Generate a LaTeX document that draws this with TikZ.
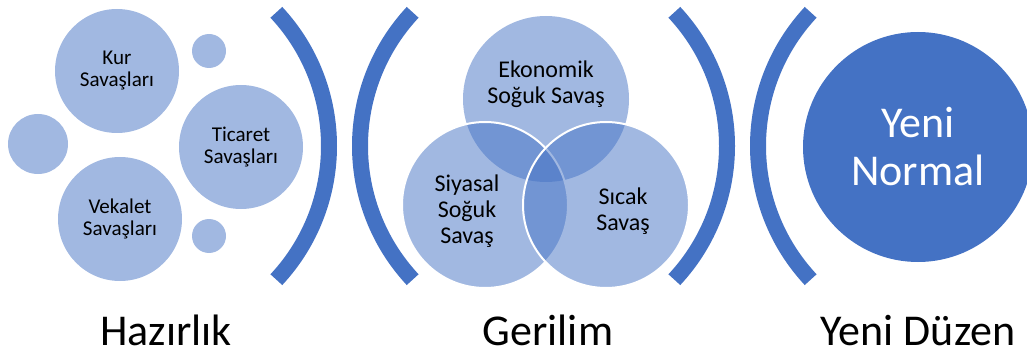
\documentclass[tikz,border=0pt]{standalone}
\usepackage{fontspec}
\setmainfont{Carlito}
\definecolor{accent}{HTML}{4472C4}
\begin{document}
\begin{tikzpicture}[x=0.75pt,y=-0.75pt,
  bub/.style={circle,inner sep=0pt,fill=accent,fill opacity=0.5,text opacity=1,align=center,font=\fontsize{15.8}{16.5}\selectfont},
  venn/.style={circle,inner sep=0pt,minimum size=124.5pt,fill=accent,fill opacity=0.5,draw=white,draw opacity=1,line width=1.5pt,text opacity=1,align=center,font=\fontsize{18}{19.5}\selectfont},
  bracket/.style={draw=accent,line width=12pt},
  stage/.style={anchor=base,font=\fontsize{33}{36}\selectfont}]
\useasboundingbox (0,0) rectangle (1027,356);
% left group
\node[bub,minimum size=93pt] (kur) at (117,71) {Kur\\Savaşları};
\node[bub,minimum size=25.5pt] (s1) at (209,51) {};
\node[bub,minimum size=45pt] (s2) at (38,144) {};
\node[bub,minimum size=93pt] (tic) at (241,147) {Ticaret\\Savaşları};
\node[bub,minimum size=93pt] (vek) at (120,219) {Vekalet\\Savaşları};
\node[bub,minimum size=25.5pt] (s3) at (209,236) {};
% brackets
\coordinate (c1) at (133,146);
\coordinate (c2) at (556,146);
\coordinate (c3) at (531,146);
\coordinate (c4) at (954,146);
\draw[bracket] ([shift={(-43:147pt)}]c1) arc[start angle=-43,end angle=43,radius=147pt];
\draw[bracket] ([shift={(137:147pt)}]c2) arc[start angle=137,end angle=223,radius=147pt];
\draw[bracket] ([shift={(-43:147pt)}]c3) arc[start angle=-43,end angle=43,radius=147pt];
\draw[bracket] ([shift={(137:147pt)}]c4) arc[start angle=137,end angle=223,radius=147pt];
% venn
\node[venn,draw=none] (eko) at (546,99) {};
\node[venn] (siy) at (485,205) {};
\node[venn] (sic) at (606,205) {};
\node[align=center,font=\fontsize{18}{19.5}\selectfont] (tEko) at (546,84) {Ekonomik\\Soğuk Savaş};
\node[align=center,font=\fontsize{18}{19.5}\selectfont] (tSiy) at (467,211) {Siyasal\\Soğuk\\Savaş};
\node[align=center,font=\fontsize{18}{19.5}\selectfont] (tSic) at (623,211) {Sıcak\\Savaş};
% new normal
\node[circle,inner sep=0pt,minimum size=172.5pt,fill=accent,text=white,align=center,font=\fontsize{33}{36}\selectfont] (yn) at (918,147) {Yeni\\Normal};
% stage labels
\node[stage] (l1) at (166,345) {Hazırlık};
\node[stage] (l2) at (548,345) {Gerilim};
\node[stage] (l3) at (918,345) {Yeni Düzen};
\end{tikzpicture}
\end{document}
